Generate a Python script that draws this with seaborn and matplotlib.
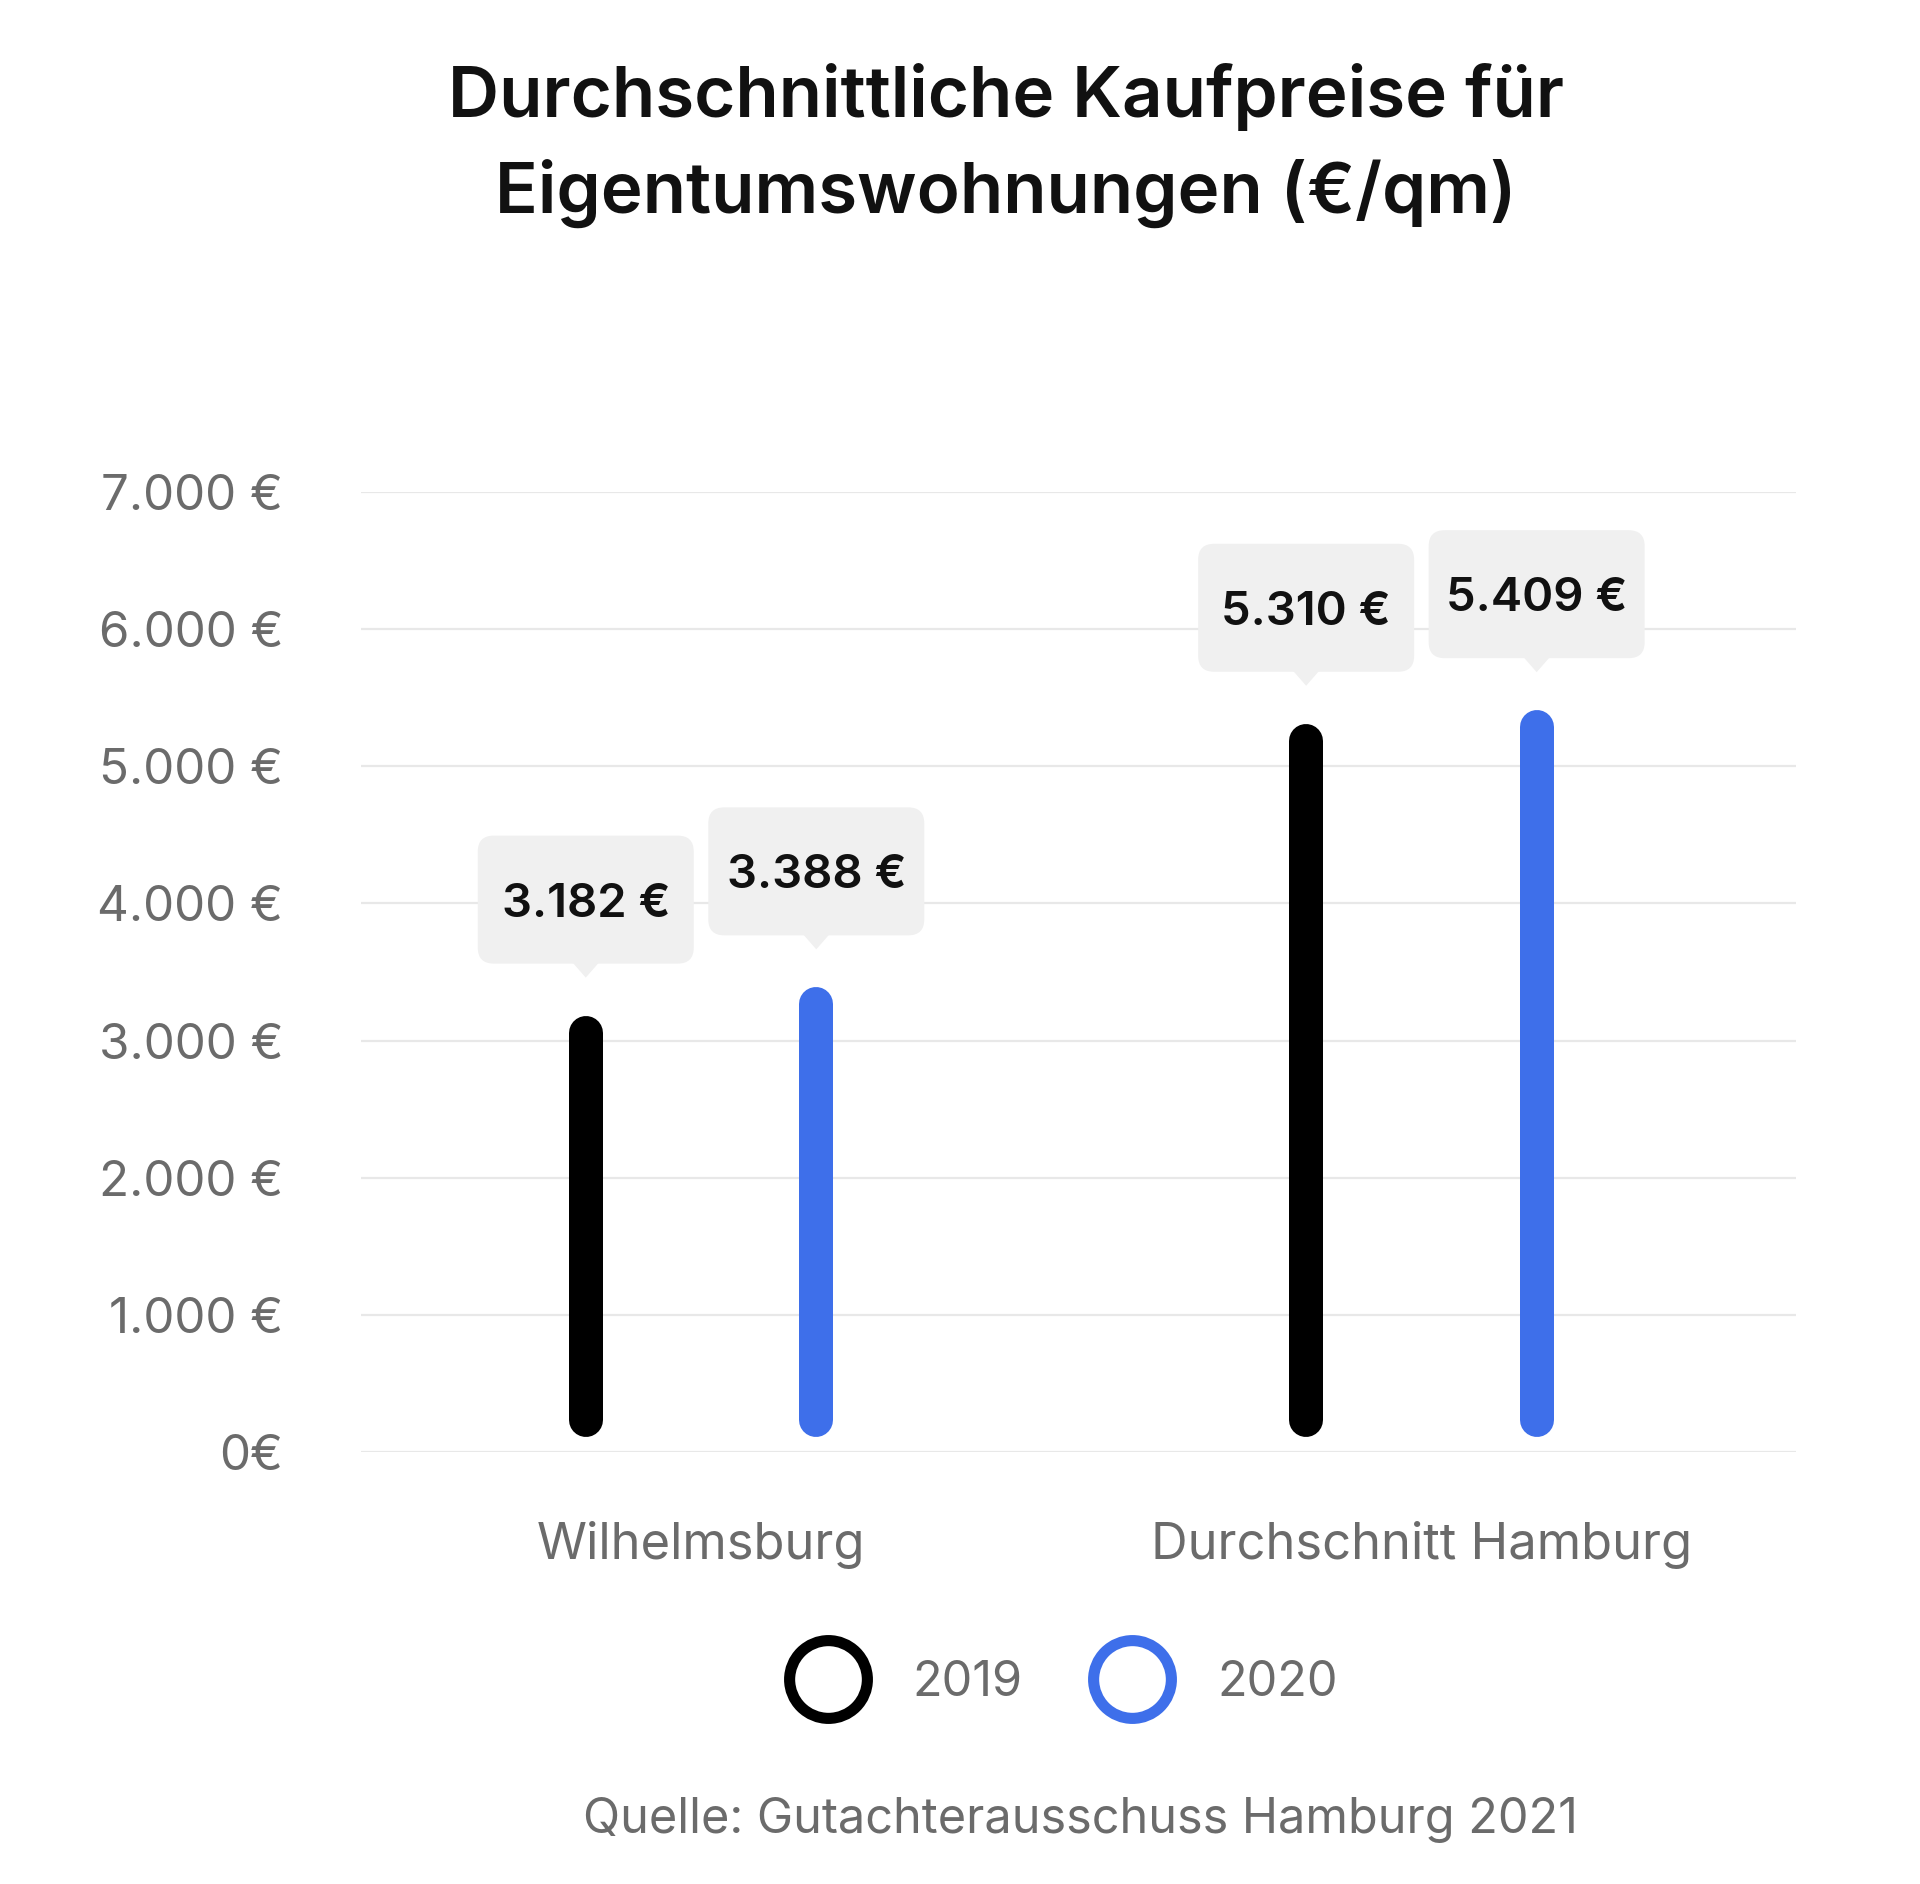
import matplotlib
matplotlib.use("Agg")
import matplotlib.pyplot as plt
import seaborn as sns
import pandas as pd
from matplotlib.patches import FancyBboxPatch, Polygon
from matplotlib.lines import Line2D
from matplotlib.transforms import ScaledTranslation

# ---------------- data ----------------
categories = ["Wilhelmsburg", "Durchschnitt Hamburg"]
years = ["2019", "2020"]
prices_2019 = [3182, 5310]
prices_2020 = [3388, 5409]
value_labels_2019 = ["3.182 €", "5.310 €"]
value_labels_2020 = ["3.388 €", "5.409 €"]
y_ticks = [0, 1000, 2000, 3000, 4000, 5000, 6000, 7000]
y_tick_labels = ["0€", "1.000 €", "2.000 €", "3.000 €", "4.000 €",
                 "5.000 €", "6.000 €", "7.000 €"]
title_lines = ["Durchschnittliche Kaufpreise für", "Eigentumswohnungen (€/qm)"]
source_text = "Quelle: Gutachterausschuss Hamburg 2021"

# ---------------- style ----------------
year_colors = {"2019": "#000000", "2020": "#3e6fea"}
gray = "#6b6b6b"
grid_color = "#e8e8e8"
box_color = "#f0f0f0"

sns.set_theme(style="white")
plt.rcParams["font.family"] = ["Inter", "DejaVu Sans"]

df = pd.DataFrame({
    "Gebiet": categories * 2,
    "Jahr": [years[0]] * len(categories) + [years[1]] * len(categories),
    "Preis": prices_2019 + prices_2020,
})
labels_by_year = {years[0]: value_labels_2019, years[1]: value_labels_2020}

W, H = 1920, 1884
fig = plt.figure(figsize=(W / 100, H / 100), dpi=100)
fig.patch.set_facecolor("white")
ax_left, ax_right, ax_bottom, ax_top = 361 / W, 1796 / W, 1 - 1452 / H, 1 - 492 / H
ax = fig.add_axes([ax_left, ax_bottom, ax_right - ax_left, ax_top - ax_bottom])

sns.barplot(data=df, x="Gebiet", y="Preis", hue="Jahr", hue_order=years,
            order=categories, palette=year_colors, width=0.64, saturation=1,
            errorbar=None, legend=False, ax=ax)

ax.set_ylim(0, 7000)
ax.set_xlim(-0.472, 1.520)
ax.set_yticks(y_ticks)
ax.set_yticklabels(y_tick_labels)
ax.set_xlabel("")
ax.set_ylabel("")
for s in ax.spines.values():
    s.set_visible(False)
ax.yaxis.grid(True, color=grid_color, linewidth=1.6)
ax.xaxis.grid(False)
ax.set_axisbelow(True)
ax.tick_params(axis="y", length=0, pad=56, labelsize=35.5, labelcolor=gray)
ax.tick_params(axis="x", length=0, pad=50, labelsize=36.5, labelcolor=gray)

# pixel <-> data conversion for the y axis
ax_h_px = (ax_top - ax_bottom) * H
units_per_px = 7000 / ax_h_px
bar_px = 34
r_units = bar_px / 2 * units_per_px
gap_units = 15 * units_per_px

# rounded (stadium) bars drawn at the seaborn bar positions + value boxes
for yi, cont in enumerate(ax.containers):
    yr = years[yi]
    for ci, bar in enumerate(cont):
        cx = bar.get_x() + bar.get_width() / 2
        v = bar.get_height()
        fc = bar.get_facecolor()
        bar.set_visible(False)
        ax.plot([cx, cx], [gap_units + r_units, v - r_units], color=fc,
                linewidth=bar_px * 0.72, solid_capstyle="round", zorder=3)

        tr = fig.dpi_scale_trans + ScaledTranslation(cx, v, ax.transData)
        box = FancyBboxPatch((-1.08, 0.52), 2.16, 1.28,
                             boxstyle="round,pad=0,rounding_size=0.16",
                             transform=tr, facecolor=box_color,
                             edgecolor="none", zorder=4, clip_on=False)
        ax.add_artist(box)
        tri = Polygon([(-0.14, 0.54), (0.14, 0.54), (0.0, 0.38)], closed=True,
                      transform=tr, facecolor=box_color, edgecolor="none",
                      zorder=4, clip_on=False)
        ax.add_artist(tri)
        ax.annotate(labels_by_year[yr][ci], xy=(cx, v),
                    xytext=(0, (52 + 64 - 17) * 0.72),
                    textcoords="offset points", ha="center", va="baseline",
                    fontsize=34, fontweight="semibold", color="#111111",
                    zorder=5, annotation_clip=False)

# title
for i, line in enumerate(title_lines):
    fig.text(1006 / W, 1 - (117 + 96 * i) / H, line, ha="center",
             va="baseline", fontsize=51, fontweight="semibold", color="#111111")

# legend
handles = [Line2D([], [], marker="o", linestyle="none", markersize=56,
                  markerfacecolor="none", markeredgecolor=year_colors[y],
                  markeredgewidth=8) for y in years]
fig.legend(handles, years, loc="center", bbox_to_anchor=(1061 / W, 1 - 1683 / H),
           ncol=2, frameon=False, fontsize=35, labelcolor=gray,
           handlelength=1.8, handletextpad=0.85, columnspacing=1.35)

# source
fig.text(1080 / W, 1 - 1833 / H, source_text, ha="center", va="baseline",
         fontsize=35, color=gray)

fig.savefig("out.png", dpi=100)
